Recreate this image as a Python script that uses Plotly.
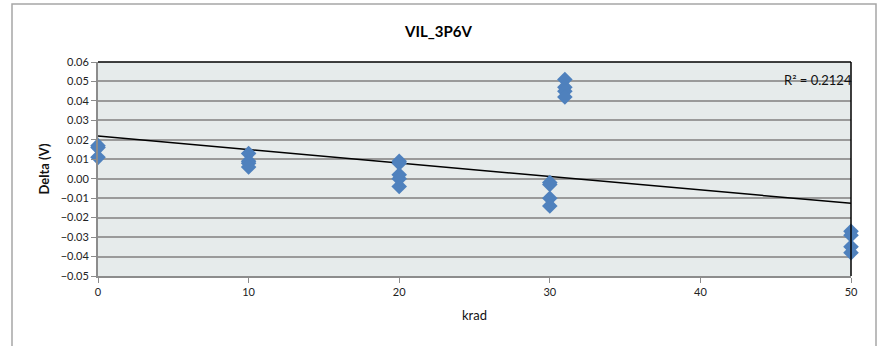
import numpy as np
import plotly.graph_objects as go

# Dose steps (krad) and measured VIL delta (V) at each step
krad_0 = [0, 0, 0]
delta_0 = [0.017, 0.016, 0.011]
krad_10 = [10, 10, 10, 10]
delta_10 = [0.013, 0.009, 0.008, 0.006]
krad_20 = [20, 20, 20, 20, 20]
delta_20 = [0.009, 0.008, 0.002, 0.000, -0.004]
krad_30 = [30, 30, 30, 30]
delta_30 = [-0.002, -0.003, -0.010, -0.014]
krad_31 = [31, 31, 31, 31]
delta_31 = [0.051, 0.047, 0.045, 0.042]
krad_50 = [50, 50, 50, 50]
delta_50 = [-0.027, -0.029, -0.035, -0.038]

y_ticks = [0.06, 0.05, 0.04, 0.03, 0.02, 0.01, 0.00, -0.01, -0.02, -0.03, -0.04, -0.05]
x_ticks = [0, 10, 20, 30, 40, 50]
r2_label = "R² = 0.2124"

x = np.array(krad_0 + krad_10 + krad_20 + krad_30 + krad_31 + krad_50, dtype=float)
y = np.array(delta_0 + delta_10 + delta_20 + delta_30 + delta_31 + delta_50, dtype=float)

# Linear trend over the full dose range
slope, intercept = np.polyfit(x, y, 1)
trend_x = np.array([0.0, 50.0])
trend_y = slope * trend_x + intercept

FONT = "Lato, 'Open Sans', sans-serif"
GRID = "#9a9a9a"
AXIS = "#8c8c8c"

fig = go.Figure()
fig.add_trace(go.Scatter(
    x=trend_x, y=trend_y, mode="lines",
    line=dict(color="black", width=1.5),
    showlegend=False, hoverinfo="skip",
))
fig.add_trace(go.Scatter(
    x=x, y=y, mode="markers",
    marker=dict(symbol="diamond", size=12, color="#4F81BD"),
    cliponaxis=False, showlegend=False,
))

fig.update_layout(
    width=877, height=346,
    margin=dict(l=98, r=26, t=62, b=70),
    paper_bgcolor="white",
    plot_bgcolor="#E6EBEB",
    font=dict(family=FONT, color="#222222", size=11),
    title=dict(
        text="<b>VIL_3P6V</b>", x=0.5, xanchor="center",
        y=1 - 32 / 346, yanchor="middle",
        font=dict(family=FONT, size=15, color="black"),
    ),
    xaxis=dict(
        range=[0, 50], tickvals=x_ticks, showgrid=False, zeroline=False,
        showline=True, linecolor=AXIS, linewidth=2,
        ticks="outside", ticklen=5, tickcolor=AXIS, tickwidth=1,
        tickfont=dict(size=11, color="#222222"),
        title=dict(text="krad", font=dict(size=13, color="#111111"), standoff=14),
    ),
    yaxis=dict(
        range=[-0.05, 0.06], tickvals=y_ticks, tickformat=".2f",
        showgrid=True, gridcolor=GRID, gridwidth=1.5, zeroline=False,
        showline=True, linecolor=AXIS, linewidth=2,
        ticks="outside", ticklen=5, tickcolor=AXIS, tickwidth=1,
        tickfont=dict(size=11, color="#222222"),
        title=dict(text="<b>Delta (V)</b>", font=dict(size=13, color="#111111"), standoff=8),
    ),
    shapes=[
        # chart frame
        dict(type="rect", xref="paper", yref="paper",
             x0=(12 - 98) / 753, x1=(876 - 98) / 753,
             y0=(276 - 352) / 214, y1=(276 - 4) / 214,
             line=dict(color="#a6a6a6", width=1.5), fillcolor="rgba(0,0,0,0)",
             layer="below"),
        # plot-area border on top and right
        dict(type="line", xref="paper", yref="paper", x0=0, x1=1, y0=1, y1=1,
             line=dict(color="black", width=1.5)),
        dict(type="line", xref="paper", yref="paper", x0=1, x1=1, y0=0, y1=1,
             line=dict(color="black", width=1.5)),
    ],
    annotations=[
        dict(text=r2_label, xref="paper", yref="paper",
             x=(782 - 98) / 753, y=(276 - 80) / 214,
             xanchor="left", yanchor="middle", showarrow=False,
             font=dict(size=13, color="#111111")),
    ],
)

fig.write_html("out.html")
